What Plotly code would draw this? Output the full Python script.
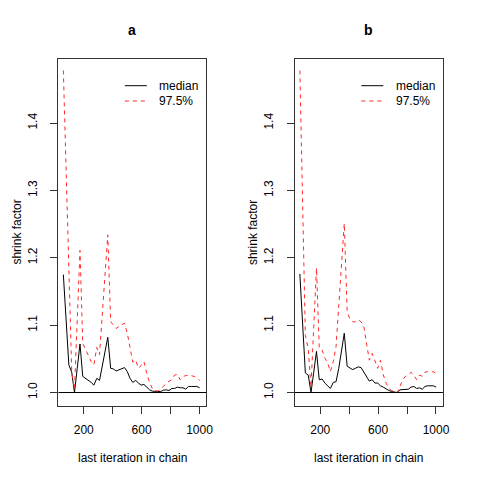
import plotly.graph_objects as go

iterations = [59, 78, 97, 117, 136, 155, 174, 193, 213, 232, 251, 270, 290, 309, 328, 347, 366, 386, 405, 424,
              443, 463, 482, 501, 520, 539, 559, 578, 597, 616, 636, 655, 674, 693, 712, 732, 751, 770, 789, 809,
              828, 847, 866, 886, 905, 924, 943, 962, 982, 1001]

median_a = [1.175, 1.108, 1.041, 1.030, 1.000, 1.036, 1.072, 1.024, 1.021, 1.019,
            1.015, 1.011, 1.021, 1.018, 1.039, 1.060, 1.082, 1.036, 1.035, 1.032,
            1.034, 1.036, 1.037, 1.031, 1.021, 1.015, 1.018, 1.014, 1.011, 1.012,
            1.008, 1.004, 1.002, 1.0015, 1.001, 1.0015, 1.0035, 1.004, 1.003, 1.006,
            1.006, 1.008, 1.007, 1.007, 1.005, 1.009, 1.009, 1.009, 1.009, 1.007]
upper_a = [1.478, 1.325, 1.172, 1.030, 1.005, 1.105, 1.211, 1.073, 1.063, 1.054,
           1.046, 1.041, 1.067, 1.056, 1.118, 1.177, 1.234, 1.105, 1.100, 1.095,
           1.098, 1.100, 1.103, 1.088, 1.068, 1.045, 1.048, 1.036, 1.040, 1.046,
           1.028, 1.015, 1.006, 1.003, 1.002, 1.005, 1.009, 1.014, 1.016, 1.019,
           1.026, 1.027, 1.019, 1.024, 1.025, 1.026, 1.025, 1.024, 1.021, 1.018]

median_b = [1.176, 1.103, 1.029, 1.026, 1.000, 1.030, 1.061, 1.019, 1.020, 1.014,
            1.010, 1.006, 1.015, 1.016, 1.036, 1.063, 1.088, 1.039, 1.036, 1.034,
            1.036, 1.038, 1.037, 1.031, 1.024, 1.017, 1.019, 1.014, 1.014, 1.010,
            1.008, 1.005, 1.003, 1.0015, 1.0005, 1.000, 1.004, 1.0045, 1.005, 1.005,
            1.008, 1.009, 1.006, 1.007, 1.005, 1.009, 1.010, 1.010, 1.010, 1.008]
upper_b = [1.478, 1.290, 1.085, 1.065, 1.008, 1.098, 1.185, 1.066, 1.063, 1.051,
           1.044, 1.031, 1.046, 1.068, 1.128, 1.192, 1.251, 1.120, 1.109, 1.105,
           1.105, 1.108, 1.105, 1.098, 1.075, 1.048, 1.058, 1.048, 1.036, 1.048,
           1.026, 1.014, 1.006, 1.003, 1.0015, 1.000, 1.009, 1.019, 1.024, 1.026,
           1.030, 1.026, 1.019, 1.026, 1.024, 1.030, 1.031, 1.030, 1.031, 1.028]

panel_titles = ["a", "b"]
x_tick_vals = [200, 400, 600, 800, 1000]
x_tick_text = ["200", "", "600", "", "1000"]
y_tick_vals = [1.0, 1.1, 1.2, 1.3, 1.4]
y_tick_text = ["1.0", "1.1", "1.2", "1.3", "1.4"]
series_names = ["median", "97.5%"]

W = H = 480
FONT = "Liberation Sans, Arial, Helvetica, sans-serif"
RED = "#ff2a2a"

def px_x(p):
    return p / W

def px_y(p):
    return 1 - p / H

panels = [
    dict(title=panel_titles[0], med=median_a, up=upper_a, left=59.3, right=209.5),
    dict(title=panel_titles[1], med=median_b, up=upper_b, left=299.3, right=449.5),
]
top, bottom = 59, 406

fig = go.Figure()
layout = dict(
    width=W, height=H,
    margin=dict(l=0, r=0, t=0, b=0),
    paper_bgcolor="white", plot_bgcolor="white",
    font=dict(family=FONT, size=12, color="black"),
    showlegend=False,
)
annotations = []
shapes = []

for k, p in enumerate(panels):
    xa = "xaxis" if k == 0 else "xaxis2"
    ya = "yaxis" if k == 0 else "yaxis2"
    xr = "x" if k == 0 else "x2"
    yr = "y" if k == 0 else "y2"
    fig.add_trace(go.Scatter(x=iterations, y=p["med"], mode="lines", name=series_names[0],
                             line=dict(color="black", width=1), xaxis=xr, yaxis=yr))
    fig.add_trace(go.Scatter(x=iterations, y=p["up"], mode="lines", name=series_names[1],
                             line=dict(color=RED, width=1, dash="4px,4px"), xaxis=xr, yaxis=yr))
    layout[xa] = dict(
        domain=[px_x(p["left"]), px_x(p["right"])], range=[25, 1048], anchor=yr,
        tickvals=x_tick_vals, ticktext=x_tick_text, ticks="outside", ticklen=7, tickwidth=1,
        tickcolor="#333", showline=True, linecolor="#333", linewidth=1, mirror=True,
        showgrid=False, zeroline=False, tickfont=dict(size=12, family=FONT), ticklabelstandoff=6,
    )
    layout[ya] = dict(
        domain=[px_y(bottom), px_y(top)], range=[0.980, 1.495], anchor=xr,
        tickvals=y_tick_vals, ticktext=y_tick_text, ticks="outside", ticklen=7, tickwidth=1,
        tickcolor="#333", showline=True, linecolor="#333", linewidth=1, mirror=True,
        showgrid=False, zeroline=False, tickangle=-90, tickfont=dict(size=12, family=FONT),
        ticklabelstandoff=9,
    )
    shapes.append(dict(type="line", xref=f"{xr} domain", yref=yr, x0=0, x1=1, y0=1.0, y1=1.0,
                       line=dict(color="black", width=1)))
    # legend drawn manually (R style)
    lx0 = p["left"] + 67.4
    lx1 = p["left"] + 89.7
    tx = p["left"] + 100.5
    for j, (yy, col, dash) in enumerate([(85.7, "black", "solid"), (101, RED, "4px,4px")]):
        shapes.append(dict(type="line", xref="paper", yref="paper", x0=px_x(lx0), x1=px_x(lx1),
                           y0=px_y(yy), y1=px_y(yy), line=dict(color=col, width=1, dash=dash)))
        annotations.append(dict(text=series_names[j], x=px_x(tx), y=px_y(yy), xref="paper", yref="paper",
                                showarrow=False, font=dict(size=12, family=FONT), xanchor="left",
                                yanchor="middle"))
    cx = (p["left"] + p["right"]) / 2
    annotations.append(dict(text=f"<b>{p['title']}</b>", x=px_x(cx), y=px_y(30), xref="paper", yref="paper",
                            showarrow=False, font=dict(size=14, family=FONT), xanchor="center", yanchor="middle"))
    annotations.append(dict(text="last iteration in chain", x=px_x(cx), y=px_y(458), xref="paper", yref="paper",
                            showarrow=False, font=dict(size=12, family=FONT), xanchor="center", yanchor="middle"))
    annotations.append(dict(text="shrink factor", x=px_x(p["left"] - 43), y=px_y((top + bottom) / 2),
                            xref="paper", yref="paper", textangle=-90, showarrow=False,
                            font=dict(size=12, family=FONT), xanchor="center", yanchor="middle"))

layout["annotations"] = annotations
layout["shapes"] = shapes
fig.update_layout(**layout)
fig.write_html(
    "out.html", config={"displayModeBar": False},
    post_script=("document.documentElement.style.overflow='hidden';"
                 "document.body.style.overflow='hidden';"
                 "document.body.style.margin='0';document.body.style.padding='0';"),
)
